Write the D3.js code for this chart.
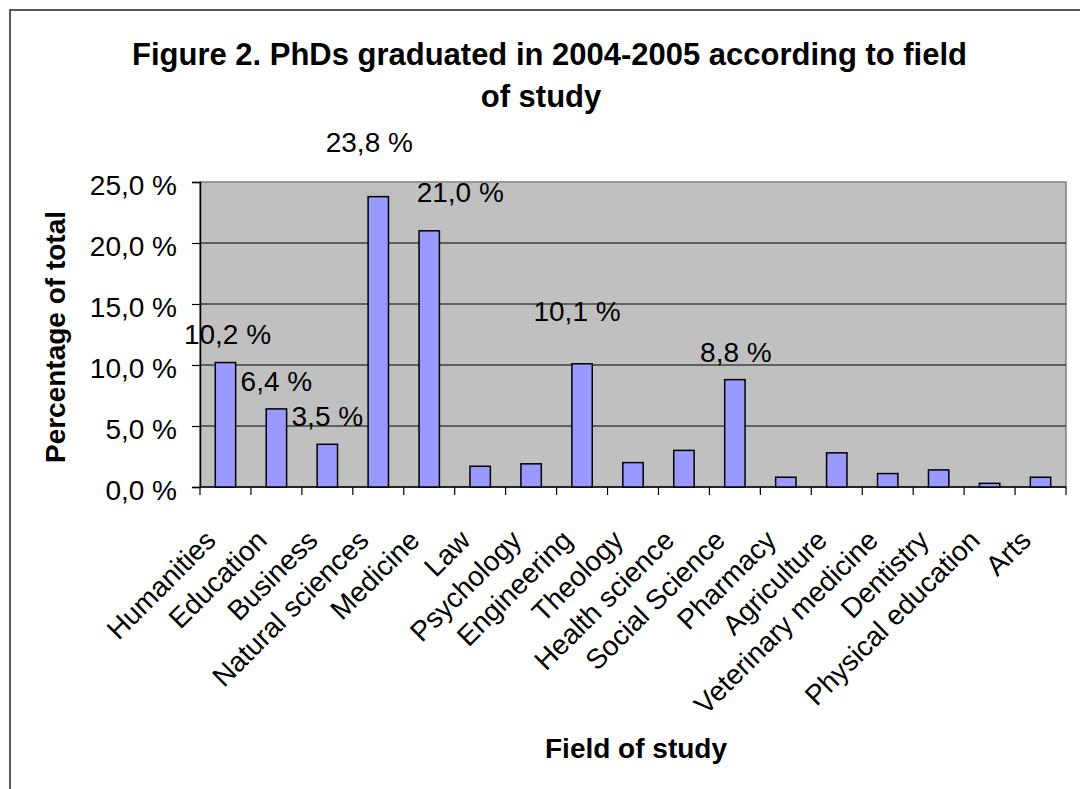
<!DOCTYPE html>
<html>
<head>
<meta charset="utf-8">
<script src="https://cdn.jsdelivr.net/npm/d3@7"></script>
<style>
  html, body { margin: 0; padding: 0; background: #fff; }
  svg { display: block; }
  text { font-family: "Liberation Sans", Arial, sans-serif; fill: #000; }
</style>
</head>
<body>
<svg id="chart" width="1080" height="789"></svg>
<script>
// ---- data ----
const categories = ["Humanities", "Education", "Business", "Natural sciences", "Medicine", "Law",
  "Psychology", "Engineering", "Theology", "Health science", "Social Science", "Pharmacy",
  "Agriculture", "Veterinary medicine", "Dentistry", "Physical education", "Arts"];
const values = [10.2, 6.4, 3.5, 23.8, 21.0, 1.7, 1.9, 10.1, 2.0, 3.0, 8.8, 0.8, 2.8, 1.1, 1.4, 0.3, 0.8];
const labelledCategories = ["Humanities", "Education", "Business", "Natural sciences", "Medicine", "Engineering", "Social Science"];
const yTicks = [0, 5, 10, 15, 20, 25];
const titleLines = ["Figure 2. PhDs graduated in 2004-2005 according to field", "of study"];
const xTitle = "Field of study";
const yTitle = "Percentage of total";

// ---- layout (not data) ----
const labelNudge = { // [dx, dy] in px relative to bar centre / bar top
  "Humanities": [2, -19], "Education": [0, -18], "Business": [0, -18],
  "Natural sciences": [-9, -45], "Medicine": [31, -29], "Engineering": [-5, -43], "Social Science": [1, -18]
};
const plot = { left: 200, right: 1066, top: 182, bottom: 487 };
const fmt = v => v.toFixed(1).replace(".", ",") + " %";

const svg = d3.select("#chart");

// outer chart border
svg.append("rect").attr("x", 10).attr("y", 10).attr("width", 1100).attr("height", 1000)
  .attr("fill", "#fff").attr("stroke", "#222").attr("stroke-width", 1.5);

const x = d3.scaleBand().domain(categories).range([plot.left, plot.right]).paddingInner(0).paddingOuter(0);
const y = d3.scaleLinear().domain([0, 25]).range([plot.bottom, plot.top]);
const barW = x.bandwidth() / 2.5;

// plot background
svg.append("rect").attr("x", plot.left).attr("y", plot.top)
  .attr("width", plot.right - plot.left).attr("height", plot.bottom - plot.top)
  .attr("fill", "#C0C0C0").attr("stroke", "#808080").attr("stroke-width", 1.5);

// gridlines
svg.append("g").selectAll("line").data(yTicks.filter(t => t > 0 && t < 25)).join("line")
  .attr("x1", plot.left).attr("x2", plot.right)
  .attr("y1", d => y(d)).attr("y2", d => y(d))
  .attr("stroke", "#000").attr("stroke-width", 1);

// y axis
const yAxis = svg.append("g").attr("transform", `translate(${plot.left},0)`)
  .call(d3.axisLeft(y).tickValues(yTicks).tickSize(8).tickPadding(15).tickFormat(fmt));
yAxis.select(".domain").attr("stroke", "#000").attr("stroke-width", 1.5);
yAxis.selectAll(".tick line").attr("stroke", "#000").attr("stroke-width", 1.2);
yAxis.selectAll(".tick text").attr("font-size", 28).attr("font-family", "Liberation Sans, Arial, sans-serif")
  .attr("dy", "0.43em");

// x axis (ticks at category boundaries)
const boundaries = categories.map(c => x(c)).concat([plot.right]);
const xAxisG = svg.append("g");
xAxisG.append("line").attr("x1", plot.left).attr("x2", plot.right)
  .attr("y1", plot.bottom).attr("y2", plot.bottom).attr("stroke", "#000").attr("stroke-width", 1.5);
xAxisG.selectAll("line.tk").data(boundaries).join("line").attr("class", "tk")
  .attr("x1", d => d).attr("x2", d => d).attr("y1", plot.bottom).attr("y2", plot.bottom + 8)
  .attr("stroke", "#000").attr("stroke-width", 1.2);

// category labels
xAxisG.selectAll("text.cat").data(categories).join("text").attr("class", "cat")
  .attr("transform", d => `translate(${x(d) + x.bandwidth() / 2 - 8},542) rotate(-45)`)
  .attr("text-anchor", "end").attr("font-size", 28)
  .text(d => d);

// bars
const data = categories.map((c, i) => ({ c, v: values[i] }));
svg.append("g").selectAll("rect").data(data).join("rect")
  .attr("x", d => x(d.c) + (x.bandwidth() - barW) / 2)
  .attr("y", d => y(d.v))
  .attr("width", barW)
  .attr("height", d => y(0) - y(d.v))
  .attr("fill", "#9999FF").attr("stroke", "#000").attr("stroke-width", 1.5);

// data labels
svg.append("g").selectAll("text").data(data.filter(d => labelledCategories.includes(d.c))).join("text")
  .attr("x", d => x(d.c) + x.bandwidth() / 2 + labelNudge[d.c][0])
  .attr("y", d => y(d.v) + labelNudge[d.c][1])
  .attr("text-anchor", "middle").attr("font-size", 28)
  .text(d => fmt(d.v));

// title
svg.append("text").attr("x", 549.5).attr("y", 65).attr("text-anchor", "middle")
  .attr("font-size", 31).attr("font-weight", "bold")
  .attr("textLength", 835).attr("lengthAdjust", "spacingAndGlyphs").text(titleLines[0]);
svg.append("text").attr("x", 541).attr("y", 107).attr("text-anchor", "middle")
  .attr("font-size", 31).attr("font-weight", "bold").text(titleLines[1]);

// axis titles
svg.append("text").attr("x", 636).attr("y", 758).attr("text-anchor", "middle")
  .attr("font-size", 28).attr("font-weight", "bold").text(xTitle);
svg.append("text").attr("transform", "translate(65,337) rotate(-90)").attr("text-anchor", "middle")
  .attr("font-size", 28).attr("font-weight", "bold").text(yTitle);
</script>
</body>
</html>
